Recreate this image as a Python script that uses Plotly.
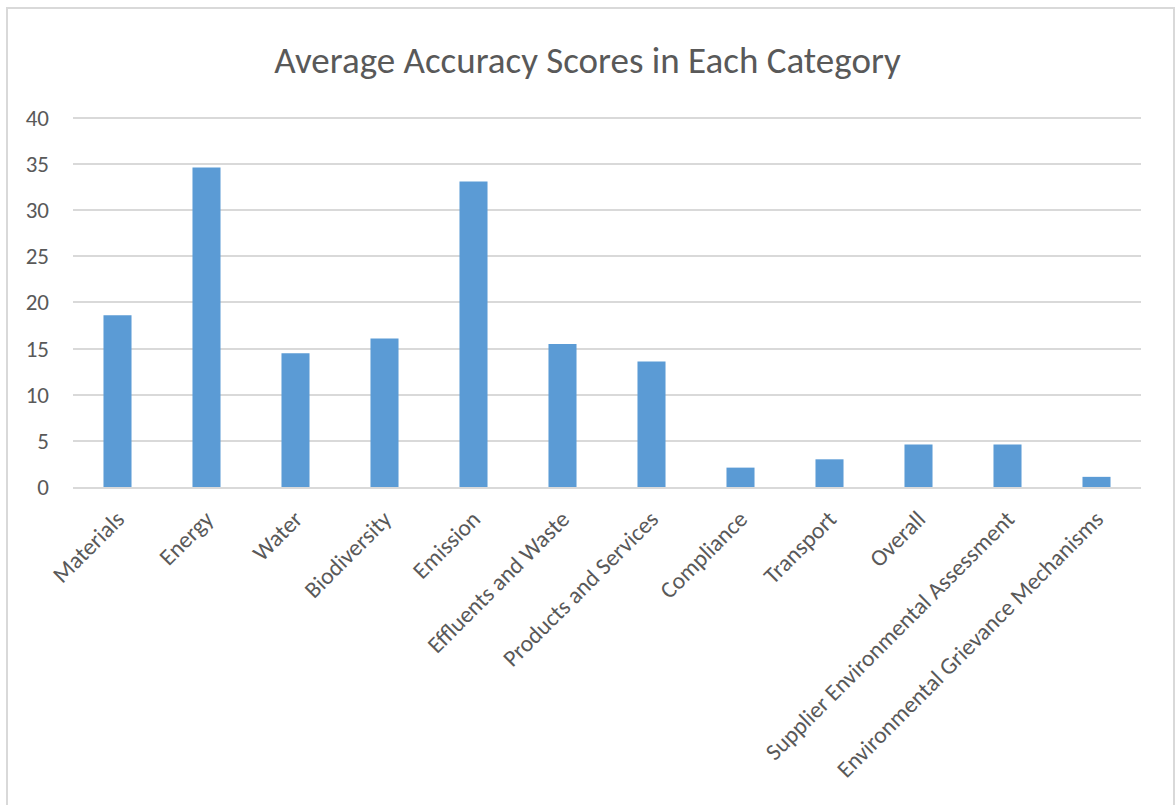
import plotly.graph_objects as go

categories = ["Materials", "Energy", "Water", "Biodiversity", "Emission",
              "Effluents and Waste", "Products and Services", "Compliance",
              "Transport", "Overall", "Supplier Environmental Assessment",
              "Environmental Grievance Mechanisms"]
scores = [18.6, 34.6, 14.5, 16.1, 33.1, 15.5, 13.6, 2.1, 3.0, 4.6, 4.6, 1.1]
y_ticks = [0, 5, 10, 15, 20, 25, 30, 35, 40]
title_text = "Average Accuracy Scores in Each Category"

FONT = "Carlito, Calibri, Lato, sans-serif"
TXT = "#595959"
GRID = "#D9D9D9"

fig = go.Figure(go.Bar(x=categories, y=scores, marker=dict(color="#5B9BD5", line=dict(width=0))))

W, H = 1175, 805
L, R, T, B = 73, 34, 115, 318
pw, ph = W - L - R, H - T - B

fig.update_layout(
    width=W, height=H,
    margin=dict(l=L, r=R, t=T, b=B),
    paper_bgcolor="white", plot_bgcolor="white",
    bargap=0.685,
    showlegend=False,
    font=dict(family=FONT, color=TXT),
    title=dict(text=title_text, x=0.5, xanchor="center", y=1 - 60 / H, yanchor="middle",
               font=dict(size=37, color=TXT, family=FONT)),
    xaxis=dict(tickangle=-45, tickfont=dict(size=23.5, color=TXT), showgrid=False,
               showline=True, linecolor=GRID, linewidth=2, ticks="", automargin=False,
               ticklabelstandoff=7),
    yaxis=dict(range=[0, 40.3], tickvals=y_ticks, tickfont=dict(size=23, color=TXT),
               showgrid=True, gridcolor=GRID, gridwidth=2, zeroline=False,
               showline=False, ticks="", automargin=False, ticklabelstandoff=23),
    shapes=[dict(type="rect", xref="paper", yref="paper",
                 x0=(7 - L) / pw, x1=(1174 - L) / pw,
                 y0=(T + ph - 812) / ph, y1=(T + ph - 8) / ph,
                 line=dict(color=GRID, width=2), fillcolor="rgba(0,0,0,0)", layer="below")],
)

fig.write_html("out.html", post_script="document.body.style.margin='0';",
               config={"displayModeBar": False})
